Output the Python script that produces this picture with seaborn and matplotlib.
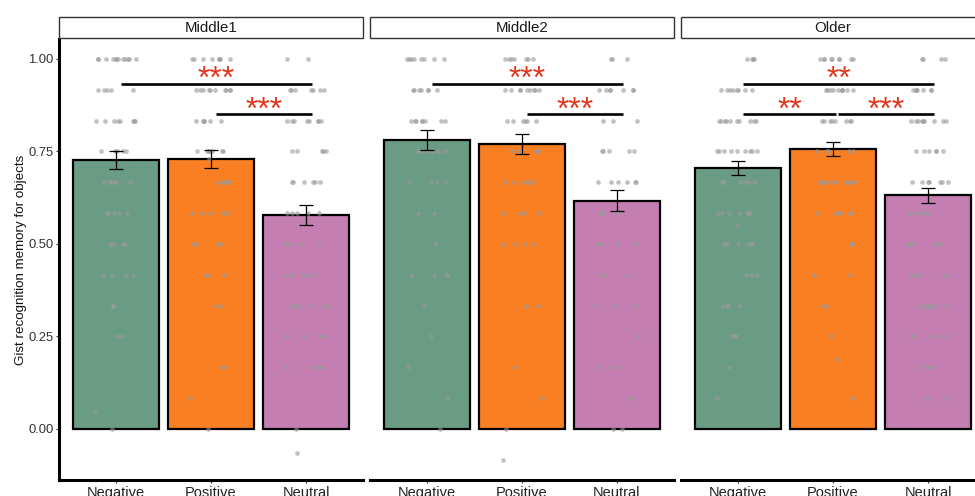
import numpy as np
import pandas as pd
import matplotlib
matplotlib.use("Agg")
import matplotlib.pyplot as plt
from matplotlib.patches import Rectangle
import seaborn as sns

# ---- data -------------------------------------------------------------
groups = ["Middle1", "Middle2", "Older"]
conditions = ["Negative", "Positive", "Neutral"]

# mean gist recognition score and standard error per group x condition
mean_middle1 = [0.727, 0.730, 0.578]
se_middle1 = [0.025, 0.025, 0.026]
mean_middle2 = [0.781, 0.770, 0.617]
se_middle2 = [0.028, 0.028, 0.028]
mean_older = [0.705, 0.757, 0.632]
se_older = [0.019, 0.018, 0.020]

# individual scores: possible score levels and participant counts at each level
score_levels = [1.0, 0.917, 0.833, 0.75, 0.667, 0.583, 0.5, 0.417, 0.333, 0.25, 0.167, 0.083, 0.0]

counts_middle1_negative = [12, 5, 8, 5, 6, 5, 5, 4, 2, 2, 0, 0, 1]
counts_middle1_positive = [8, 10, 6, 7, 5, 5, 4, 3, 2, 0, 2, 1, 1]
counts_middle1_neutral = [2, 7, 8, 5, 6, 5, 5, 5, 6, 4, 5, 0, 1]
counts_middle2_negative = [8, 7, 8, 7, 4, 2, 1, 4, 1, 1, 1, 1, 1]
counts_middle2_positive = [7, 9, 6, 5, 5, 4, 4, 0, 2, 0, 1, 1, 1]
counts_middle2_neutral = [3, 7, 3, 5, 6, 5, 5, 3, 3, 1, 3, 2, 2]
counts_older_negative = [4, 8, 10, 9, 7, 7, 6, 3, 4, 3, 1, 1, 0]
counts_older_positive = [9, 10, 8, 5, 10, 6, 3, 2, 2, 1, 0, 1, 0]
counts_older_neutral = [4, 7, 9, 6, 7, 6, 7, 5, 8, 5, 3, 2, 0]

# scores that fall between the regular levels
extra_middle1_negative = [0.049]
extra_middle1_positive = [0.73]
extra_middle1_neutral = [-0.065]
extra_middle2_negative = []
extra_middle2_positive = [-0.084]
extra_middle2_neutral = []
extra_older_negative = [0.55]
extra_older_positive = [0.19]
extra_older_neutral = []

# pairwise comparisons: (first condition, second condition, label)
comparisons_middle1 = [("Negative", "Neutral", "***"), ("Positive", "Neutral", "***")]
comparisons_middle2 = [("Negative", "Neutral", "***"), ("Positive", "Neutral", "***")]
comparisons_older = [("Negative", "Neutral", "**"), ("Negative", "Positive", "**"),
                     ("Positive", "Neutral", "***")]

palette = {"Negative": "#6A9B85", "Positive": "#FA7F22", "Neutral": "#C47EB2"}
star_color = "#E2361C"

# ---- assemble tables ----------------------------------------------------
means = {"Middle1": mean_middle1, "Middle2": mean_middle2, "Older": mean_older}
ses = {"Middle1": se_middle1, "Middle2": se_middle2, "Older": se_older}
counts = {
    ("Middle1", "Negative"): counts_middle1_negative,
    ("Middle1", "Positive"): counts_middle1_positive,
    ("Middle1", "Neutral"): counts_middle1_neutral,
    ("Middle2", "Negative"): counts_middle2_negative,
    ("Middle2", "Positive"): counts_middle2_positive,
    ("Middle2", "Neutral"): counts_middle2_neutral,
    ("Older", "Negative"): counts_older_negative,
    ("Older", "Positive"): counts_older_positive,
    ("Older", "Neutral"): counts_older_neutral,
}
extras = {
    ("Middle1", "Negative"): extra_middle1_negative,
    ("Middle1", "Positive"): extra_middle1_positive,
    ("Middle1", "Neutral"): extra_middle1_neutral,
    ("Middle2", "Negative"): extra_middle2_negative,
    ("Middle2", "Positive"): extra_middle2_positive,
    ("Middle2", "Neutral"): extra_middle2_neutral,
    ("Older", "Negative"): extra_older_negative,
    ("Older", "Positive"): extra_older_positive,
    ("Older", "Neutral"): extra_older_neutral,
}
comparisons = {"Middle1": comparisons_middle1, "Middle2": comparisons_middle2,
               "Older": comparisons_older}

summary = pd.DataFrame(
    [(g, c, means[g][i], ses[g][i]) for g in groups for i, c in enumerate(conditions)],
    columns=["group", "condition", "mean", "se"],
)
rows = []
for (g, c), cnt in counts.items():
    for v in np.repeat(score_levels, cnt):
        rows.append((g, c, v))
    for v in extras[(g, c)]:
        rows.append((g, c, v))
scores = pd.DataFrame(rows, columns=["group", "condition", "score"])

# ---- figure ------------------------------------------------------------
sns.set_theme(style="ticks")
plt.rcParams["font.family"] = ["Liberation Sans", "DejaVu Sans"]

W, H = 975, 496
fig = plt.figure(figsize=(W / 100, H / 100), dpi=100)

panel_left0, panel_w, panel_gap = 59, 304, 7
spine_y, top_y = 480, 39
strip_top, strip_bottom = 17, 38
np.random.seed(7)

axes = []
for k, g in enumerate(groups):
    left = panel_left0 + k * (panel_w + panel_gap)
    ax = fig.add_axes([left / W, (H - spine_y) / H, panel_w / W, (spine_y - top_y) / H])
    axes.append(ax)

    sub = summary[summary.group == g]
    sns.barplot(data=sub, x="condition", y="mean", hue="condition", order=conditions,
                hue_order=conditions, palette=palette, saturation=1, width=0.9,
                edgecolor="black", linewidth=1.6, errorbar=None, legend=False,
                ax=ax, zorder=1)
    sns.stripplot(data=scores[scores.group == g], x="condition", y="score",
                  order=conditions, jitter=0.22, color="#9A9A9A", alpha=0.6,
                  size=3.4, linewidth=0, ax=ax, zorder=3)
    ax.errorbar(x=np.arange(len(conditions)), y=sub["mean"].values, yerr=sub["se"].values,
                fmt="none", ecolor="black", elinewidth=0.9, capsize=5, capthick=0.9,
                zorder=4)

    # significance brackets
    bracket_levels = {2: 0.933, 1: 0.851}
    for a, b, lab in comparisons[g]:
        i, j = conditions.index(a), conditions.index(b)
        y = bracket_levels[j - i]
        x0, x1 = i + 0.05, j + 0.065
        if j - i == 1 and i == 1 and len(comparisons[g]) == 3:
            x0 = i + 0.055
        if j - i == 1 and i == 0:
            x1 = j + 0.035
        ax.plot([x0, x1], [y, y], color="black", lw=1.9, solid_capstyle="butt", zorder=5)
        ax.text((x0 + x1) / 2, y - 0.012, lab, ha="center", va="baseline",
                color=star_color, fontsize=23, zorder=6)

    ax.set_xlim(-0.6, 2.6)
    ax.set_ylim(-0.138, 1.054)
    ax.set_xlabel("")
    ax.set_ylabel("")
    ax.set_yticks([0.0, 0.25, 0.5, 0.75, 1.0])
    ax.set_yticklabels(["0.00", "0.25", "0.50", "0.75", "1.00"])
    ax.tick_params(axis="x", length=2.5, width=0.8, color="#333333", pad=2,
                   labelsize=10.5, labelcolor="#222222")
    ax.tick_params(axis="y", length=2.5, width=0.8, color="#333333", pad=1.5,
                   labelsize=9.4, labelcolor="#333333")
    for side in ["top", "right"]:
        ax.spines[side].set_visible(False)
    ax.spines["bottom"].set_linewidth(2.2)
    ax.spines["bottom"].set_color("black")
    if k == 0:
        ax.spines["left"].set_linewidth(2.2)
        ax.spines["left"].set_color("black")
        ax.set_ylabel("Gist recognition memory for objects", fontsize=9.6,
                      color="#111111", labelpad=1.0)
    else:
        ax.spines["left"].set_visible(False)
        ax.tick_params(axis="y", left=False, labelleft=False)

    # facet strip
    sax = fig.add_axes([left / W, (H - strip_bottom) / H, panel_w / W,
                        (strip_bottom - strip_top) / H])
    sax.set_xlim(0, 1)
    sax.set_ylim(0, 1)
    sax.axis("off")
    sax.add_patch(Rectangle((0, 0), 1, 1, transform=sax.transAxes, facecolor="white",
                            edgecolor="#333333", linewidth=1.0, clip_on=False))
    sax.text(0.5, 0.47, g, ha="center", va="center", fontsize=10.8, color="#1A1A1A")

fig.savefig("out.png", dpi=100)
